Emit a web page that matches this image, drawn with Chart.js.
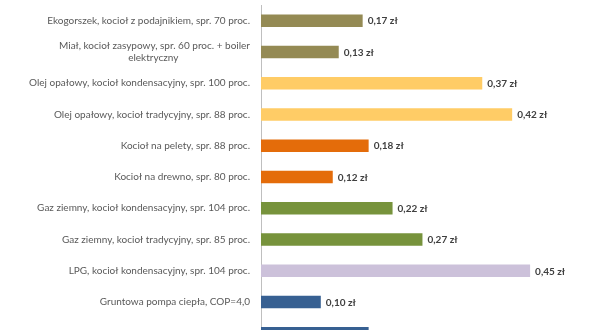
<!DOCTYPE html>
<html>
<head>
<meta charset="utf-8">
<script src="https://cdn.jsdelivr.net/npm/chart.js@4.4.0/dist/chart.umd.min.js"></script>
<style>
html,body{margin:0;padding:0;width:600px;height:330px;overflow:hidden;background:#fff;}
canvas{display:block;}
</style>
</head>
<body>
<canvas id="c" width="600" height="350"></canvas>
<script>
const categories = [
  "Ekogorszek, kocioł z podajnikiem, spr. 70 proc.",
  ["Miał, kocioł zasypowy, spr. 60 proc. + boiler", "elektryczny"],
  "Olej opałowy, kocioł kondensacyjny, spr. 100 proc.",
  "Olej opałowy, kocioł tradycyjny, spr. 88 proc.",
  "Kocioł na pelety, spr. 88 proc.",
  "Kocioł na drewno, spr. 80 proc.",
  "Gaz ziemny, kocioł kondensacyjny, spr. 104 proc.",
  "Gaz ziemny, kocioł tradycyjny, spr. 85 proc.",
  "LPG, kocioł kondensacyjny, spr. 104 proc.",
  "Gruntowa pompa ciepła, COP=4,0",
  "Powietrzna pompa ciepła, COP=2,2"
];
const values = [0.17, 0.13, 0.37, 0.42, 0.18, 0.12, 0.22, 0.27, 0.45, 0.10, 0.18];
const valueLabels = ["0,17 zł","0,13 zł","0,37 zł","0,42 zł","0,18 zł","0,12 zł","0,22 zł","0,27 zł","0,45 zł","0,10 zł","0,18 zł"];
const barColors = ["#948A54","#948A54","#FFCC66","#FFCC66","#E46C0A","#E46C0A","#77933C","#77933C","#CCC1DA","#376092","#376092"];

const FONT = "Lato, 'Open Sans', sans-serif";

// pad the wrapped second line so it sits centered under the first line
(function(){
  const cv = document.createElement('canvas').getContext('2d');
  cv.font = "10px " + FONT;
  const l = categories[1];
  const w0 = cv.measureText(l[0]).width, w1 = cv.measureText(l[1]).width, ws = cv.measureText(" ").width;
  const n = Math.max(0, Math.round((w0 - w1) / 2 / ws));
  l[1] = l[1] + " ".repeat(n);
})();

const valueLabelPlugin = {
  id: 'valueLabels',
  afterDatasetsDraw(chart) {
    const ctx = chart.ctx;
    const meta = chart.getDatasetMeta(0);
    ctx.save();
    ctx.font = "bold 10px " + FONT;
    ctx.fillStyle = "#404040";
    ctx.textAlign = "left";
    ctx.textBaseline = "middle";
    meta.data.forEach((bar, i) => {
      ctx.fillText(valueLabels[i], bar.x + 5, bar.y + 0.5);
    });
    ctx.restore();
  }
};

new Chart(document.getElementById('c'), {
  type: 'bar',
  data: {
    labels: categories,
    datasets: [{
      data: values,
      backgroundColor: barColors,
      borderWidth: 0,
      barPercentage: 0.4,
      categoryPercentage: 1.0
    }]
  },
  options: {
    indexAxis: 'y',
    responsive: false,
    animation: false,
    devicePixelRatio: 1,
    layout: { padding: { top: 5, bottom: 1, left: 0, right: 40 } },
    plugins: { legend: { display: false }, tooltip: { enabled: false } },
    scales: {
      x: { display: false, min: 0, max: 0.5 },
      y: {
        grid: { display: false, drawTicks: false },
        border: { display: true, color: "#BFBFBF", width: 1 },
        ticks: { color: "#595959", font: { family: FONT, size: 10 }, padding: 11 },
        afterFit(scale) { scale.width = 261; scale.paddingTop = 0; scale.paddingBottom = 0; }
      }
    }
  },
  plugins: [valueLabelPlugin]
});
</script>
</body>
</html>
